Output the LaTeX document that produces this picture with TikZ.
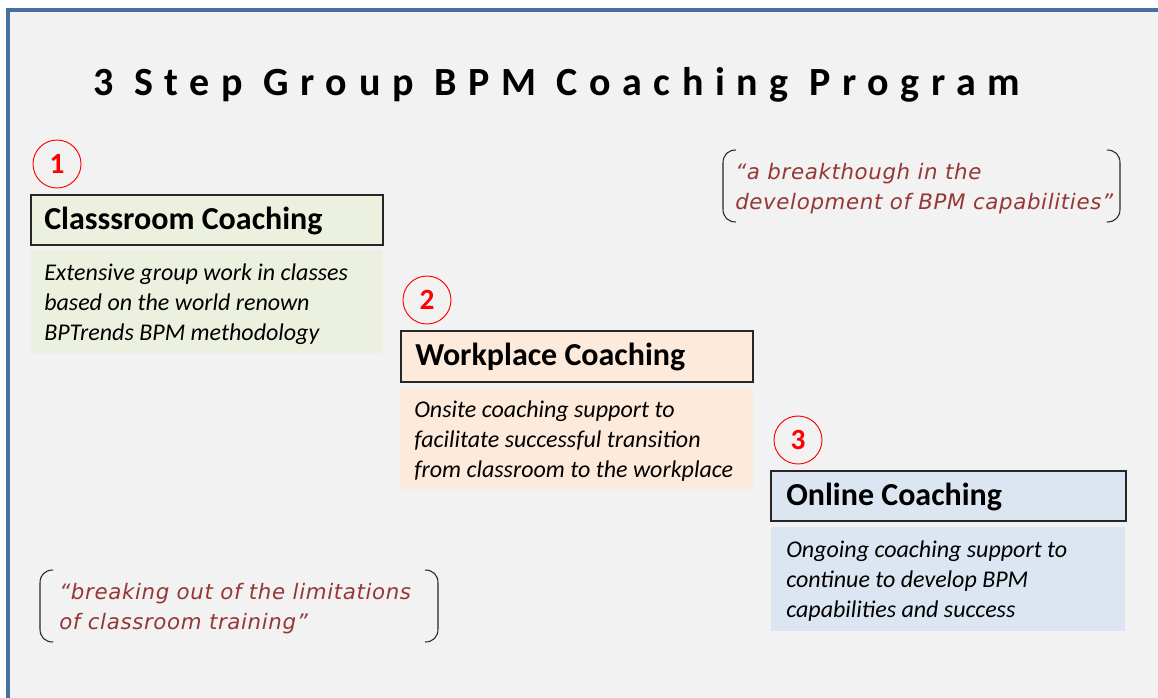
\documentclass[tikz,border=0pt]{standalone}
\usepackage{fontspec}
\setmainfont{Carlito}
\newfontfamily\titlefont[LetterSpace=29]{Carlito}
\newfontfamily\quotefont[LetterSpace=3]{DejaVu Sans}
\usepackage{tikz}
\usepackage{xcolor}
\definecolor{frameblue}{RGB}{74,110,157}
\definecolor{panelgray}{RGB}{242,242,242}
\definecolor{greenfill}{RGB}{235,241,222}
\definecolor{peachfill}{RGB}{253,234,218}
\definecolor{bluefill}{RGB}{220,230,242}
\definecolor{quotered}{RGB}{149,55,53}

\begin{document}
\begin{tikzpicture}[x=0.75pt,y=0.75pt,yscale=-1,xscale=1,
  hdrbox/.style={draw=black!85,line width=0.9pt},
  hdrtext/.style={anchor=west,inner sep=0pt,font=\fontsize{24}{28}\selectfont\bfseries},
  desctext/.style={anchor=west,inner sep=0pt,align=left,font=\fontsize{18}{22.5}\selectfont\itshape},
  quotetext/.style={anchor=west,inner sep=0pt,align=left,text=quotered,font=\quotefont\fontsize{16}{22.5}\selectfont\itshape},
  bracket/.style={draw=black!85,line width=0.8pt},
  stepnum/.style={circle,draw=red,line width=0.7pt,minimum size=36pt,inner sep=0pt,text=red,font=\fontsize{22}{26}\selectfont\bfseries}]
\useasboundingbox (0,0) rectangle (1158,697);

%Shape: Panel
\fill [white] (0,0) rectangle (1158,697);
\begin{scope}
\clip (0,0) rectangle (1158,697);
\draw [frameblue,fill=panelgray,line width=2.3pt] (8,10) rectangle (1175,715);
\end{scope}

% Title
\draw (93,95) node [anchor=base west][inner sep=0pt] (title) {\titlefont\fontsize{30}{36}\selectfont\bfseries 3 Step Group BPM Coaching Program};

%Shape: Rectangle (step 1)
\fill [greenfill] (31,250) rectangle (383,353) ;
\draw [hdrbox,fill=greenfill] (31,195) rectangle (383,245) ;
%Shape: Rectangle (step 2)
\fill [peachfill] (400,388) rectangle (753,489) ;
\draw [hdrbox,fill=peachfill] (401,331) rectangle (753,382) ;
%Shape: Rectangle (step 3)
\fill [bluefill] (771,527) rectangle (1125,631) ;
\draw [hdrbox,fill=bluefill] (771,471) rectangle (1126,521) ;

% Circles
\draw (57,164) node [stepnum] (numA) {1};
\draw (427,300) node [stepnum] (numB) {2};
\draw (798,440) node [stepnum] (numC) {3};

% Text Node
\draw (44,221) node [hdrtext] (hdrA) {Classsroom Coaching};
\draw (44,304) node [desctext] (descA) {Extensive group work in classes\\based on the world renown\\BPTrends BPM methodology};
% Text Node
\draw (415,357) node [hdrtext] (hdrB) {Workplace Coaching};
\draw (414,441) node [desctext] (descB) {Onsite coaching support to\\facilitate successful transition\\from classroom to the workplace};
% Text Node
\draw (786,497) node [hdrtext] (hdrC) {Online Coaching};
\draw (786,581) node [desctext] (descC) {Ongoing coaching support to\\continue to develop BPM\\capabilities and success};

%Shape: Double Bracket (upper quote)
\draw [bracket] (736,150) .. controls (728,150) and (723,155) .. (723,163) -- (723,209) .. controls (723,217) and (728,222) .. (736,222) ;
\draw [bracket] (1107,150) .. controls (1115,150) and (1120,155) .. (1120,163) -- (1120,209) .. controls (1120,217) and (1115,222) .. (1107,222) ;
\draw (735,189) node [quotetext] (quoteA) {“a breakthough in the\\development of BPM capabilities”};

%Shape: Double Bracket (lower quote)
\draw [bracket] (53,570) .. controls (45,570) and (40,575) .. (40,583) -- (40,629) .. controls (40,637) and (45,642) .. (53,642) ;
\draw [bracket] (425,570) .. controls (433,570) and (438,575) .. (438,583) -- (438,629) .. controls (438,637) and (433,642) .. (425,642) ;
\draw (59,609) node [quotetext] (quoteB) {“breaking out of the limitations\\of classroom training”};

\end{tikzpicture}
\end{document}
